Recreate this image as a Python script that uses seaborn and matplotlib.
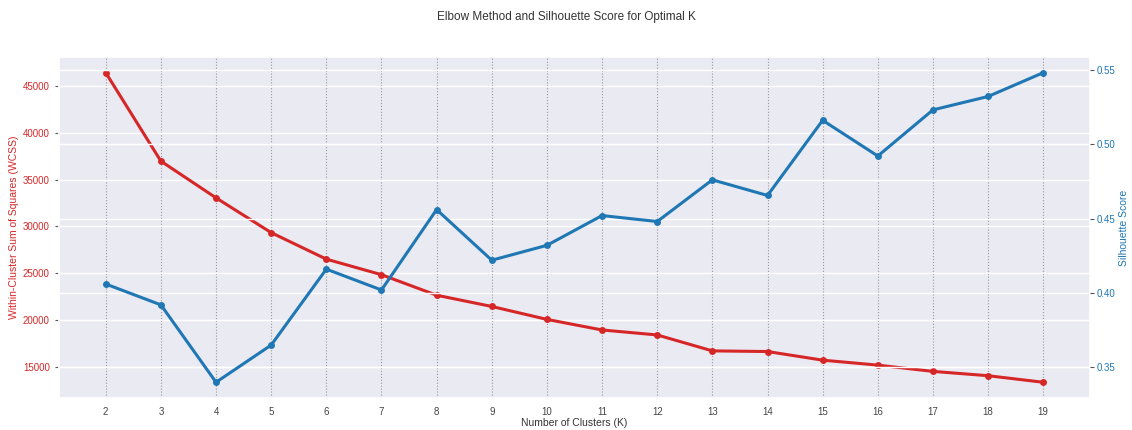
import matplotlib
matplotlib.use("Agg")
import matplotlib.pyplot as plt
import seaborn as sns
import pandas as pd

# Cluster counts and scores
k_values = list(range(2, 20))
wcss = [46410, 36970, 33050, 29340, 26510, 24850, 22660, 21460, 20080,
        18950, 18420, 16720, 16650, 15730, 15200, 14530, 14070, 13370]
silhouette = [0.406, 0.392, 0.340, 0.365, 0.416, 0.402, 0.456, 0.422, 0.432,
              0.452, 0.448, 0.476, 0.4655, 0.516, 0.492, 0.523, 0.532, 0.548]

df = pd.DataFrame({"K": k_values, "WCSS": wcss, "Silhouette": silhouette})

sns.set_theme(style="darkgrid")
plt.rcParams["font.family"] = ["Liberation Sans", "DejaVu Sans"]
plt.rcParams["xtick.major.size"] = 3
plt.rcParams["ytick.major.size"] = 3
plt.rcParams["xtick.major.width"] = 0.8
plt.rcParams["ytick.major.width"] = 0.8
plt.rcParams["xtick.color"] = "#555555"
plt.rcParams["ytick.color"] = "#555555"

red = "#d62728"
blue = "#1f77b4"

fig, ax1 = plt.subplots(figsize=(11.32, 4.30), dpi=100)
fig.subplots_adjust(left=0.052, right=0.963, top=0.867, bottom=0.075)

sns.lineplot(data=df, x="K", y="WCSS", ax=ax1, color=red, marker="o",
             markersize=5, markeredgewidth=0, linewidth=2.2)
ax1.set_xlabel("Number of Clusters (K)", fontsize=7.5, color="#333333", labelpad=1)
ax1.set_ylabel("Within-Cluster Sum of Squares (WCSS)", fontsize=7.5, color=red, labelpad=3)
ax1.tick_params(axis="y", labelcolor=red, labelsize=7)
ax1.tick_params(axis="x", labelsize=7, labelcolor="#444444")
ax1.set_xticks(k_values)
ax1.grid(True, axis="x", linestyle=":", color="#999999", linewidth=0.8)

ax2 = ax1.twinx()
sns.lineplot(data=df, x="K", y="Silhouette", ax=ax2, color=blue, marker="o",
             markersize=5, markeredgewidth=0, linewidth=2.2)
ax2.set_ylabel("Silhouette Score", fontsize=7.5, color=blue, labelpad=2)
ax2.tick_params(axis="y", labelcolor=blue, labelsize=7, pad=2)
ax2.grid(True, axis="y", color="white")
ax2.grid(False, axis="x")
for spine in ax2.spines.values():
    spine.set_visible(False)

fig.suptitle("Elbow Method and Silhouette Score for Optimal K", fontsize=8.5, color="#333333", y=0.975)

fig.savefig("out.png", dpi=100)
